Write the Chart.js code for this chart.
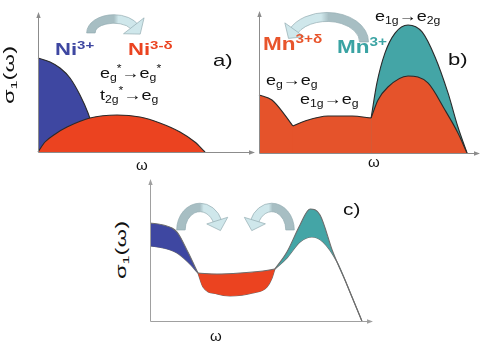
<!DOCTYPE html>
<html>
<head>
<meta charset="utf-8">
<script src="https://cdn.jsdelivr.net/npm/chart.js@4.4.0/dist/chart.umd.min.js"></script>
<style>
  html, body { margin: 0; padding: 0; background: #fff; }
  #page { position: relative; width: 491px; height: 350px; overflow: hidden; background: #fff; }
  canvas { position: absolute; }
  .t { position: absolute; line-height: 1; white-space: nowrap; font-family: "Liberation Sans", Arial, sans-serif; color: #111; transform-origin: 0 0; }
  .t sup, .t sub { font-size: 0.68em; line-height: 0; }
  .t sup { vertical-align: 0.55em; }
  .t sub { vertical-align: -0.3em; }
</style>
</head>
<body>
<div id="page">
  <canvas id="ca" width="232" height="160" style="left:28px;top:4px;width:232px;height:160px"></canvas>
  <canvas id="cb" width="240" height="160" style="left:249px;top:4px;width:240px;height:160px"></canvas>
  <canvas id="cc" width="240" height="160" style="left:140px;top:172px;width:240px;height:160px"></canvas>
</div>
<script>
// ---- data (omega in arbitrary units 0..100, sigma_1 in arbitrary units 0..100) ----
// panel a)
const aRedW  = [0, 3.3, 8, 13.7, 24.5, 37.3, 48.1, 57.5, 67, 74, 78.8];
const aRedS  = [0, 7.3, 13, 18.2, 24.8, 27, 25.5, 21.2, 14.6, 7.3, 0];
const aBlueW = [0, 5.7, 10.4, 15.1, 19.8, 23.6, 26.9, 29.2];
const aBlueS = [68.6, 65.7, 61.3, 54, 41.6, 28.5, 12.4, 0];
// panel b)
const bRed1W = [0, 6, 12, 15.7];
const bRed1S = [41.7, 38.1, 27.3, 19.4];
const bRed2W = [15.7, 21.3, 31.9, 43.1, 51.9];
const bRed2S = [19.4, 23, 26.6, 26.6, 25.2];
const bRed3W = [51.9, 55.1, 59.7, 69, 78.2, 86.1, 92.1, 96.3];
const bRed3S = [25.2, 38.1, 47.5, 55.4, 50.4, 30.9, 14.4, 0];
const bTealW = [51.9, 54.6, 58.3, 63, 69, 75.5, 81.5, 87.5, 92.1, 96.3];
const bTealS = [25.2, 50.4, 71.9, 86.3, 92.1, 87.1, 69.1, 43.2, 18.7, 0];
// panel c) upper / lower edges of each band
const cBlueTopW = [0, 6, 12.4, 17.4, 22];
const cBlueTopS = [70.5, 69.1, 64, 49.6, 34.5];
const cBlueLowW = [0, 6, 12.4, 17.4, 22];
const cBlueLowS = [54, 52.5, 48.9, 42.4, 34.5];
const cRedTopW = [22, 30.7, 41.3, 51.8, 57.3];
const cRedTopS = [34.5, 33.8, 34.5, 36, 37.4];
const cRedLowW = [22, 24.3, 30.7, 36.7, 47.2, 53.7, 56, 57.3];
const cRedLowS = [34.5, 24.5, 19.4, 18, 20.1, 24.5, 30.9, 37.4];
const cTealTopW = [57.3, 62.8, 68.8, 73.4, 78, 83.9, 90.4, 97.2];
const cTealTopS = [37.4, 49.6, 69.1, 80.6, 76.3, 49.6, 25.9, 0];
const cTealLowW = [57.3, 62.8, 68.8, 74.3, 79.4, 85.8, 91.7, 97.2];
const cTealLowS = [37.4, 45.3, 56.8, 60.4, 56.8, 42.4, 20.9, 0];

const BLUE = '#3e47a1', RED = '#eb4320', RED_B = '#e5532b', TEAL = '#44a5a6';
const ARROW_DARK = '#a7bec3', ARROW_LIGHT = '#cfe7eb';

const pts = (w, s) => w.map((v, i) => ({x: v, y: s[i]}));

function curve(w, s, color, fill, border) {
  return {
    data: pts(w, s),
    borderColor: border,
    borderWidth: 1.1,
    backgroundColor: color,
    fill: fill,
    pointRadius: 0,
    cubicInterpolationMode: 'monotone',
    clip: 6
  };
}

// straight-edged red underlay for panel b, hides the seams between the three red pieces
const bRedAll = pts(
  [...bRed1W, ...bRed2W.slice(1), ...bRed3W.slice(1)],
  [...bRed1S, ...bRed2S.slice(1), ...bRed3S.slice(1)]
);

// curved "transfer" arrows, axes with arrow heads
function drawArrow(ctx, cx, cy, a) {
  const {rx, ry, w, end, ccw, hw, hl} = a;
  const a0 = ccw ? 2 * Math.PI : Math.PI;
  const a1 = ccw ? Math.PI + end : 2 * Math.PI - end;
  const g = ctx.createLinearGradient(cx - rx, 0, cx + rx, 0);
  if (ccw) {
    g.addColorStop(0, ARROW_LIGHT); g.addColorStop(0.42, ARROW_LIGHT);
    g.addColorStop(0.52, ARROW_DARK); g.addColorStop(1, ARROW_DARK);
  } else {
    g.addColorStop(0, ARROW_DARK); g.addColorStop(0.5, ARROW_DARK);
    g.addColorStop(0.6, ARROW_LIGHT); g.addColorStop(1, ARROW_LIGHT);
  }
  ctx.beginPath();
  ctx.ellipse(cx, cy, rx + w / 2, ry + w / 2, 0, a0, a1, ccw);
  ctx.ellipse(cx, cy, rx - w / 2, ry - w / 2, 0, a1, a0, !ccw);
  ctx.closePath();
  ctx.fillStyle = g;
  ctx.fill();
  ctx.strokeStyle = '#94acb1';
  ctx.lineWidth = 0.7;
  ctx.stroke();
  // head
  const ex = cx + rx * Math.cos(a1), ey = cy + ry * Math.sin(a1);
  let tx = ccw ? rx * Math.sin(a1) : -rx * Math.sin(a1);
  let ty = ccw ? -ry * Math.cos(a1) : ry * Math.cos(a1);
  const l = Math.hypot(tx, ty); tx /= l; ty /= l;
  const nx = -ty, ny = tx;
  const bx = ex - tx * 1.5, by = ey - ty * 1.5;
  ctx.beginPath();
  ctx.moveTo(bx + nx * hw, by + ny * hw);
  ctx.lineTo(bx - nx * hw, by - ny * hw);
  ctx.lineTo(ex + tx * hl, ey + ty * hl);
  ctx.closePath();
  ctx.fillStyle = ARROW_LIGHT;
  ctx.fill();
  ctx.stroke();
}

const decor = {
  id: 'decor',
  afterDatasetsDraw(chart, args, opts) {
    const {ctx, chartArea: ca, scales: {x, y}} = chart;
    ctx.save();
    const x0 = Math.round(ca.left) + 0.5, y0 = Math.round(ca.bottom) + 0.5;
    const top = ca.top - 1, right = ca.right + 3;
    ctx.strokeStyle = ctx.fillStyle = opts.axis || '#8c8c8c';
    ctx.lineWidth = 1;
    ctx.beginPath();
    ctx.moveTo(x0, y0); ctx.lineTo(x0, top + 3);
    ctx.moveTo(x0, y0); ctx.lineTo(right - 3, y0);
    ctx.stroke();
    ctx.beginPath();
    ctx.moveTo(x0, top - 2); ctx.lineTo(x0 - 2.2, top + 4); ctx.lineTo(x0 + 2.2, top + 4); ctx.closePath();
    ctx.moveTo(right + 2, y0); ctx.lineTo(right - 4, y0 - 2.2); ctx.lineTo(right - 4, y0 + 2.2); ctx.closePath();
    ctx.fill();
    (opts.arrows || []).forEach(a => drawArrow(ctx, x.getPixelForValue(a.x), y.getPixelForValue(a.y), a));
    ctx.restore();
  }
};

function makeChart(id, datasets, padding, arrows, axis) {
  return new Chart(document.getElementById(id), {
    type: 'line',
    data: {datasets},
    options: {
      responsive: false,
      animation: false,
      devicePixelRatio: 1,
      layout: {padding},
      plugins: {legend: {display: false}, tooltip: {enabled: false}, decor: {arrows, axis}},
      scales: {
        x: {type: 'linear', min: 0, max: 100, display: false},
        y: {min: 0, max: 100, display: false}
      }
    },
    plugins: [decor]
  });
}

// first dataset is painted last (on top)
makeChart('ca', [
  curve(aRedW, aRedS, RED, 'origin', '#2a2a2a'),
  curve(aBlueW, aBlueS, BLUE, 'origin', '#2a2a2a')
], {left: 10, right: 10, top: 11, bottom: 12},
  [{x: 35.8, y: 86.9, rx: 23, ry: 14, w: 8.5, end: 0.44, ccw: false, hw: 13, hl: 9}]);

makeChart('cb', [
  curve(bRed1W, bRed1S, RED_B, 'origin', '#2a2a2a'),
  curve(bRed2W, bRed2S, RED_B, 'origin', '#2a2a2a'),
  curve(bRed3W, bRed3S, RED_B, 'origin', '#2a2a2a'),
  curve(bTealW, bTealS, TEAL, 'origin', '#2a2a2a'),
  {data: bRedAll, borderWidth: 0, backgroundColor: RED_B, fill: 'origin', pointRadius: 0, tension: 0}
], {left: 10, right: 14, top: 10, bottom: 11},
  [{x: 31.5, y: 79.9, rx: 37, ry: 25, w: 9, end: 0.45, ccw: true, hw: 12, hl: 9}]);

makeChart('cc', [
  curve(cBlueTopW, cBlueTopS, BLUE, '+1', '#6d6d6d'),
  curve(cBlueLowW, cBlueLowS, BLUE, false, '#6d6d6d'),
  curve(cRedTopW, cRedTopS, RED, '+1', '#6d6d6d'),
  curve(cRedLowW, cRedLowS, RED, false, '#6d6d6d'),
  curve(cTealTopW, cTealTopS, TEAL, '+1', '#6d6d6d'),
  curve(cTealLowW, cTealLowS, TEAL, false, '#6d6d6d')
], {left: 10, right: 12, top: 10, bottom: 11},
  [{x: 22.9, y: 65.5, rx: 19, ry: 22.5, w: 8.5, end: 0.36, ccw: false, hw: 11, hl: 9},
   {x: 55.8, y: 65.5, rx: 18.4, ry: 22.5, w: 8.5, end: 0.36, ccw: true, hw: 11, hl: 9}], '#a0a0a0');

// ---- text labels ----
const labels = [
  {h: 'Ni<sup>3+</sup>', x: 55, b: 55, fs: 17, c: BLUE, bold: 1, sx: 1.3},
  {h: 'Ni<sup>3-δ</sup>', x: 128, b: 55, fs: 17, c: RED, bold: 1, sx: 1.3},
  {h: 'e<sub>g</sub><sup>*</sup>→e<sub>g</sub><sup>*</sup>', x: 100, b: 78, fs: 15, sx: 1.2},
  {h: 't<sub>2g</sub><sup>*</sup>→e<sub>g</sub>', x: 100, b: 100, fs: 15, sx: 1.2},
  {h: 'a)', x: 213, b: 66, fs: 17, sx: 1.3},
  {h: 'ω', cx: 142, b: 170, fs: 15},
  {h: 'σ<sub>1</sub>(ω)', rx: 9, ry: 75, fs: 14, sx: 1.7},
  {h: 'e<sub>1g</sub>→e<sub>2g</sub>', x: 375, b: 21, fs: 15, sx: 1.2},
  {h: 'Mn<sup>3+δ</sup>', x: 263, b: 50, fs: 18, c: '#e8552c', bold: 1, sx: 1.25},
  {h: 'Mn<sup>3+</sup>', x: 337, b: 53, fs: 18, c: '#3aa3a3', bold: 1, sx: 1.25},
  {h: 'b)', x: 448, b: 65, fs: 17, sx: 1.3},
  {h: 'e<sub>g</sub>→e<sub>g</sub>', x: 266, b: 85, fs: 15, sx: 1.2},
  {h: 'e<sub>1g</sub>→e<sub>g</sub>', x: 300, b: 104, fs: 15, sx: 1.2},
  {h: 'ω', cx: 374, b: 167, fs: 15},
  {h: 'c)', x: 343, b: 216, fs: 16, sx: 1.3},
  {h: 'σ<sub>1</sub>(ω)', rx: 121, ry: 250, fs: 14, sx: 1.7},
  {h: 'ω', cx: 216, b: 341, fs: 15}
];
const page = document.getElementById('page');
labels.forEach(l => {
  const d = document.createElement('div');
  d.className = 't';
  d.innerHTML = l.h;
  d.style.fontSize = l.fs + 'px';
  if (l.c) d.style.color = l.c;
  if (l.bold) d.style.fontWeight = 'bold';
  page.appendChild(d);
  if (l.rx !== undefined) {
    d.style.left = l.rx + 'px';
    d.style.top = l.ry + 'px';
    d.style.transformOrigin = '50% 50%';
    d.style.transform = 'translate(-50%,-50%) rotate(-90deg) scaleX(' + l.sx + ')';
    return;
  }
  d.style.top = (l.b - 0.85 * l.fs) + 'px';
  if (l.cx !== undefined) {
    d.style.left = (l.cx - d.offsetWidth / 2) + 'px';
  } else {
    d.style.left = l.x + 'px';
    d.style.transform = 'scaleX(' + l.sx + ')';
  }
});
</script>
</body>
</html>
